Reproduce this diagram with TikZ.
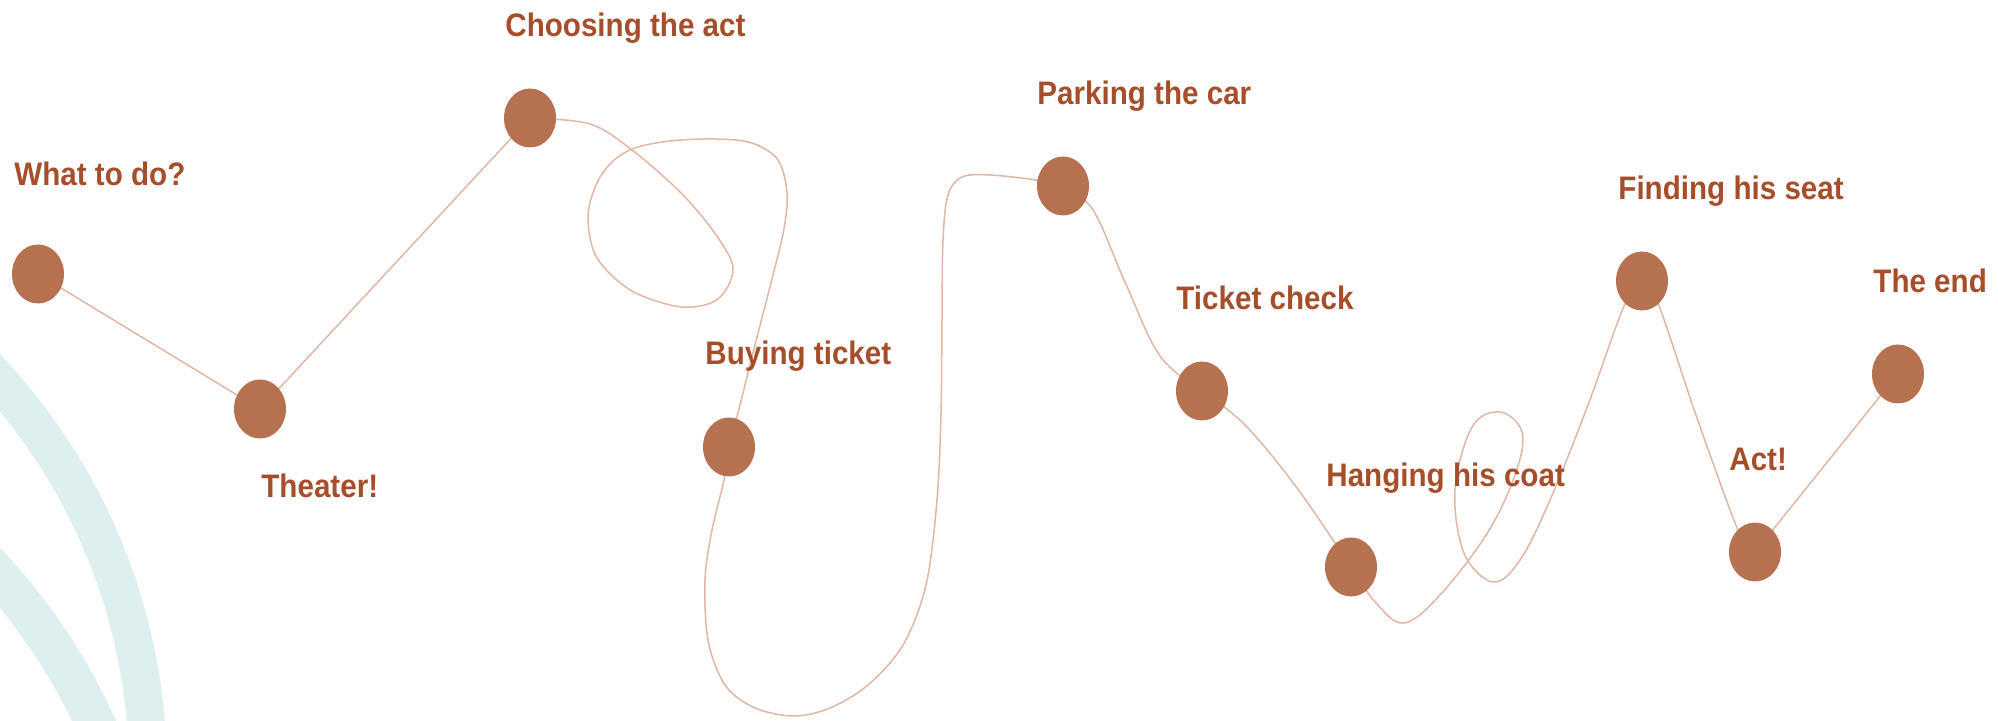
\documentclass[tikz,border=0pt]{standalone}
\usepackage{fontspec}
\setmainfont{Liberation Sans}
\usetikzlibrary{shapes.geometric,backgrounds}
\definecolor{txtc}{RGB}{166,78,42}
\definecolor{dotc}{RGB}{181,113,80}
\definecolor{linec}{RGB}{224,182,164}
\definecolor{tealc}{RGB}{221,240,239}
\newcommand\tallt[1]{\scalebox{1}[1.1]{#1}}
\begin{document}
\begin{tikzpicture}[x=0.5pt,y=-0.5pt,
  dot/.style={ellipse, fill=dotc, draw=none, minimum width=26pt, minimum height=29.5pt, inner sep=0pt},
  lab/.style={anchor=base west, inner sep=0pt, text=txtc, font=\bfseries\fontsize{14.8}{16}\selectfont},
  trail/.style={draw=linec, line width=0.75pt, line join=round},
  band/.style={draw=tealc}]
\useasboundingbox (0,0) rectangle (1998,721);
% stations
\node[dot] (what) at (38,274) {};
\node[dot] (theater) at (260,409) {};
\node[dot] (choose) at (530,118) {};
\node[dot] (buy) at (729,447) {};
\node[dot] (park) at (1063,186) {};
\node[dot] (ticket) at (1202,391) {};
\node[dot] (hang) at (1351,567) {};
\node[dot] (find) at (1642,281) {};
\node[dot] (act) at (1755,552) {};
\node[dot] (end) at (1898,374) {};
% labels
\node[lab] (lwhat) at (14,186) {\tallt{What to do?}};
\node[lab] (ltheater) at (261,498) {\tallt{Theater!}};
\node[lab] (lchoose) at (505,37) {\tallt{Choosing the act}};
\node[lab] (lbuy) at (705,365) {\tallt{Buying ticket}};
\node[lab] (lpark) at (1037,105) {\tallt{Parking the car}};
\node[lab] (lticket) at (1176,310) {\tallt{Ticket check}};
\node[lab] (lhang) at (1326,487) {\tallt{Hanging his coat}};
\node[lab] (lfind) at (1618,200) {\tallt{Finding his seat}};
\node[lab] (lact) at (1729,471) {\tallt{Act!}};
\node[lab] (lend) at (1873,293) {\tallt{The end}};
\begin{scope}[on background layer]
  \begin{scope}
    \clip (0,0) rectangle (1998,721);
    \draw[band, line width=19pt] (-439,772) circle[radius=293.5pt];
    \draw[band, line width=20pt] (-439,967) circle[radius=293.5pt];
  \end{scope}
  \draw[trail] (what.center) -- (theater.center) -- (choose.center);
  \draw[trail] plot[smooth, tension=0.55] coordinates {(choose.center) (590,124) (632,150) (680,192) (714,232) (733,268) (718,299) (682,307) (632,291) (597,258) (588,218) (596,185) (612,162) (635,148) (670,141) (715,139) (752,143) (778,160) (787,193) (784,229) (773,275) (755,345) (738,413) (buy.center)};
  \draw[trail] plot[smooth, tension=0.55] coordinates {(buy.center) (724,480) (712,530) (705,580) (708,640) (725,685) (755,708) (794,716) (830,708) (868,685) (903,645) (926,585) (937,500) (941,413) (942,320) (943,240) (948,195) (962,177) (990,175) (1036,180) (park.center)};
  \draw[trail] plot[smooth, tension=0.6] coordinates {(park.center) (1093,210) (1125,282) (1160,356) (ticket.center)};
  \draw[trail] plot[smooth, tension=0.6] coordinates {(ticket.center) (1245,425) (1297,488) (hang.center)};
  \draw[trail] plot[smooth, tension=0.6] coordinates {(hang.center) (1376,603) (1404,623) (1440,595) (1488,532) (1516,472) (1522,432) (1500,412) (1472,427) (1455,490) (1464,553) (1493,582) (1520,560) (1550,500) (1588,405) (1624,306) (find.center)};
  \draw[trail] plot[smooth, tension=0.55] coordinates {(find.center) (1659,306) (1697,418) (1738,530) (act.center)};
  \draw[trail] (act.center) -- (end.center);
\end{scope}
\end{tikzpicture}
\end{document}
